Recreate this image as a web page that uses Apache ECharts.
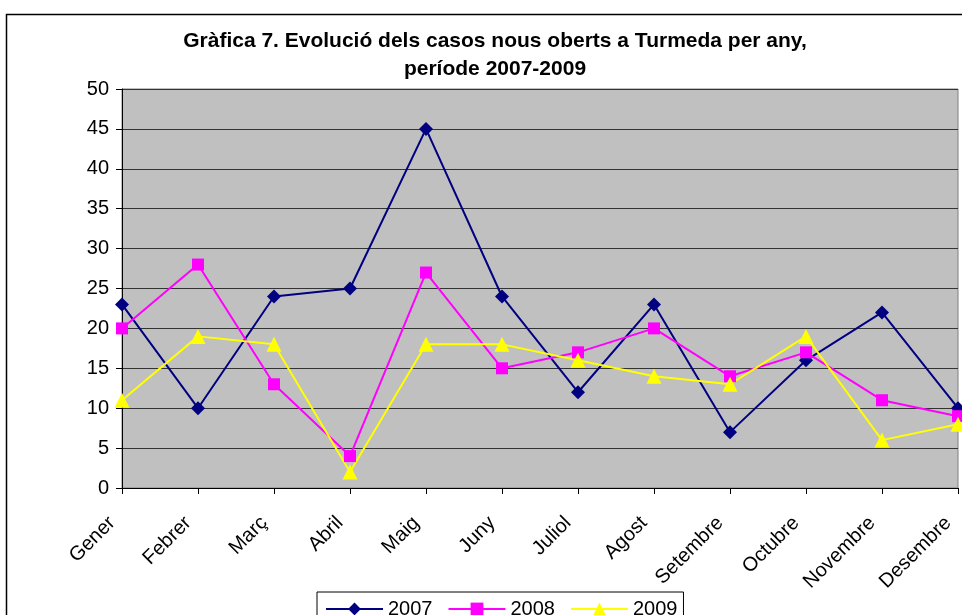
<!DOCTYPE html>
<html>
<head>
<meta charset="utf-8">
<script src="https://cdn.jsdelivr.net/npm/echarts@6/dist/echarts.min.js"></script>
<style>
  html, body { margin: 0; padding: 0; background: #fff; }
  #chart { width: 962px; height: 615px; }
</style>
</head>
<body>
<div id="chart"></div>
<script>
// months on the category axis
const months = ['Gener', 'Febrer', 'Març', 'Abril', 'Maig', 'Juny', 'Juliol',
  'Agost', 'Setembre', 'Octubre', 'Novembre', 'Desembre'];

// new cases per month
const cases2007 = [23, 10, 24, 25, 45, 24, 12, 23, 7, 16, 22, 10];
const cases2008 = [20, 28, 13, 4, 27, 15, 17, 20, 14, 17, 11, 9];
const cases2009 = [11, 19, 18, 2, 18, 18, 16, 14, 13, 19, 6, 8];

const chart = echarts.init(document.getElementById('chart'));
const font = '"Liberation Sans", Arial, sans-serif';

function line(name, data, color, symbol, size) {
  return {
    name: name,
    type: 'line',
    data: data,
    symbol: symbol,
    symbolSize: size,
    lineStyle: { color: color, width: 2 },
    itemStyle: { color: color },
    emphasis: { disabled: true }
  };
}

chart.setOption({
  animation: false,
  backgroundColor: '#fff',
  textStyle: { fontFamily: font },
  graphic: [{
    type: 'rect',
    shape: { x: 6.5, y: 14.5, width: 1000, height: 700 },
    style: { fill: 'none', stroke: '#000', lineWidth: 1.5 },
    silent: true
  }],
  title: {
    text: 'Gràfica 7. Evolució dels casos nous oberts a Turmeda per any,\nperíode 2007-2009',
    left: 490,
    textAlign: 'center',
    top: 22,
    textStyle: { fontSize: 21, fontWeight: 'bold', color: '#000', lineHeight: 28, fontFamily: font }
  },
  legend: {
    top: 592,
    left: 317,
    itemWidth: 57,
    itemHeight: 16,
    itemGap: 15,
    padding: [7, 6, 14, 8],
    borderColor: '#000',
    borderWidth: 1,
    backgroundColor: '#fff',
    textStyle: { fontSize: 20, color: '#000', fontFamily: font },
    data: ['2007', '2008', '2009']
  },
  grid: {
    left: 122,
    right: 4,
    top: 89,
    bottom: 127,
    outerBoundsMode: 'none',
    show: true,
    backgroundColor: '#C0C0C0',
    borderColor: '#808080',
    borderWidth: 1
  },
  xAxis: {
    type: 'category',
    data: months,
    boundaryGap: false,
    axisLine: { lineStyle: { color: '#000', width: 1 } },
    axisTick: { show: true, length: 6, lineStyle: { color: '#000' } },
    axisLabel: { rotate: 45, fontSize: 20, color: '#000', margin: 22, padding: [0, 14, 0, 0], fontFamily: font },
    splitLine: { show: false }
  },
  yAxis: {
    type: 'value',
    min: 0,
    max: 50,
    interval: 5,
    axisLine: { show: true, lineStyle: { color: '#000', width: 1 } },
    axisTick: { show: true, length: 6, lineStyle: { color: '#000' } },
    axisLabel: { fontSize: 20, color: '#000', margin: 13, fontFamily: font },
    splitLine: { lineStyle: { color: '#333', width: 1 } }
  },
  series: [
    line('2007', cases2007, '#000080', 'diamond', 14),
    line('2008', cases2008, '#FF00FF', 'rect', 12),
    line('2009', cases2009, '#FFFF00', 'triangle', 15)
  ]
});
</script>
</body>
</html>
